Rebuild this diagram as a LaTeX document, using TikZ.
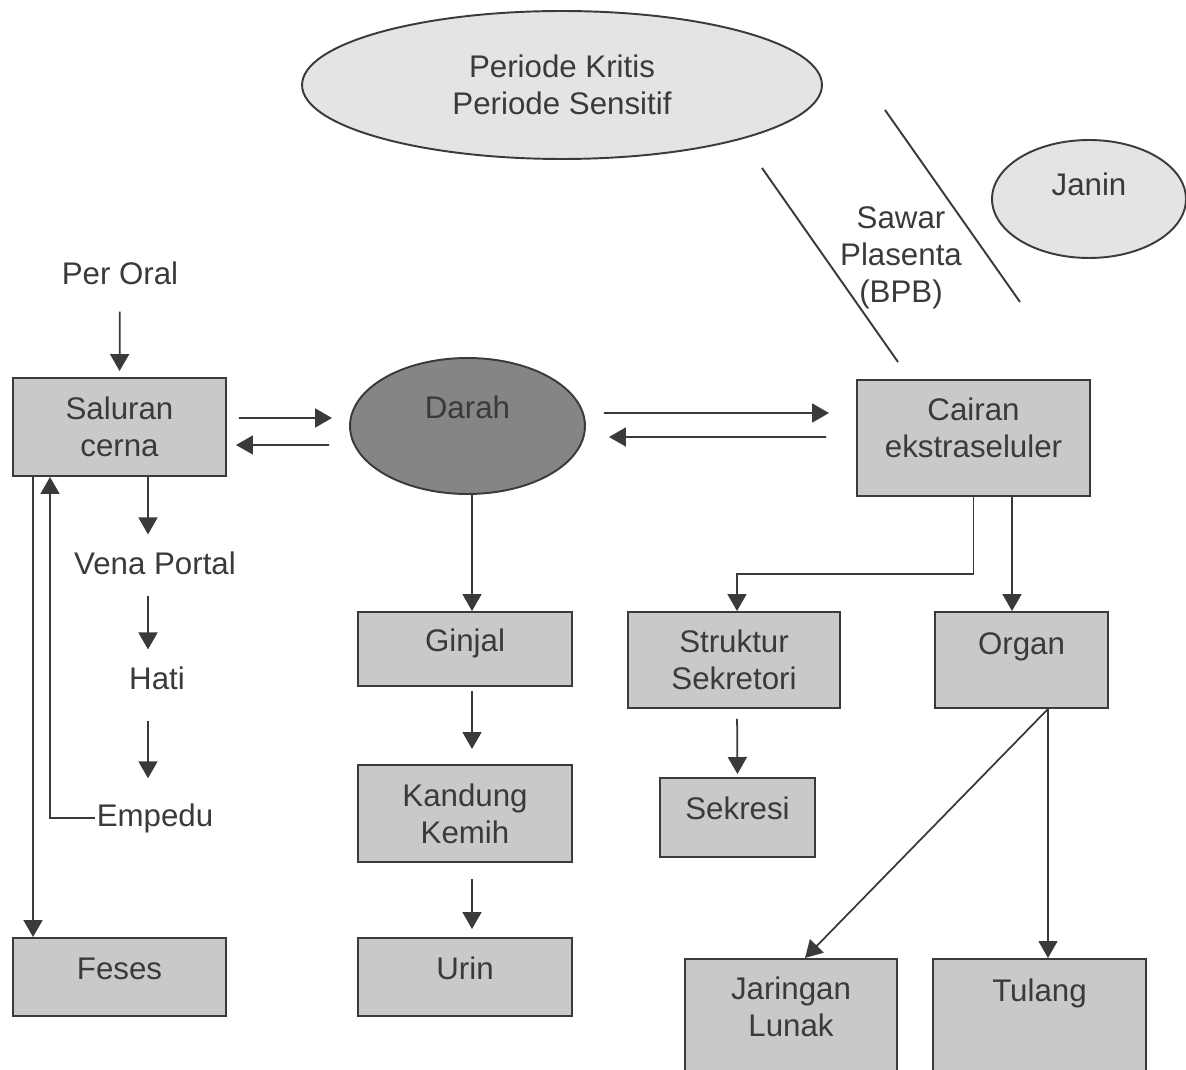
\documentclass[tikz,border=0pt]{standalone}
\usepackage{fontspec}
\setmainfont{Liberation Sans}
\usetikzlibrary{arrows.meta,positioning,calc,shapes.geometric}
\definecolor{InkGray}{HTML}{3A3A3A}
\definecolor{BoxGray}{HTML}{C9C9C9}
\definecolor{BloodGray}{HTML}{858585}
\definecolor{PaleGray}{HTML}{E4E4E4}
\tikzset{
  organbox/.style={draw=InkGray, fill=BoxGray, line width=1.1pt, align=center, inner sep=0pt, text=InkGray},
  lift/.style={text height=0.44cm, text depth=0.36cm},
  oval/.style={ellipse, draw=InkGray, fill=PaleGray, line width=1.1pt, align=center, inner sep=0pt, text=InkGray},
  plain/.style={text=InkGray, inner sep=1pt},
  arrow/.style={-{Triangle[length=0.34cm, width=0.38cm]}, line width=1pt, draw=InkGray},
  barrier/.style={line width=1.1pt, draw=InkGray}
}

\begin{document}
\begin{tikzpicture}[x=0.02cm, y=-0.02cm, every node/.style={font=\fontsize{17.8}{21.2}\selectfont}]
\useasboundingbox (0,0) rectangle (1186,1070);
\clip (0,0) rectangle (1186,1070);

% top: periods, placenta barrier, fetus
\node[oval, minimum width=10.4cm, minimum height=2.96cm] (periode) at (562,85) {Periode Kritis\\Periode Sensitif};
\node[oval, minimum width=3.88cm, minimum height=2.36cm, text height=0.44cm, text depth=0.56cm] (janin) at (1089,199) {Janin};
\node[plain, align=center] (sawar) at (901,258) {Sawar\\Plasenta\\(BPB)};
\draw[barrier] (762,168) -- (898,362);
\draw[barrier] (885,110) -- (1020,302);

% left column
\node[plain] (peroral) at (120,273) {Per Oral};
\node[organbox, minimum width=4.26cm, minimum height=1.96cm] (sal) at (119.5,427) {Saluran\\cerna};
\node[plain] (vena) at (155,563) {Vena Portal};
\node[plain] (hati) at (157,678) {Hati};
\node[plain] (empedu) at (155,818) {Empedu};
\node[organbox, lift, minimum width=4.26cm, minimum height=1.56cm] (feses) at (119.5,977) {Feses};

% blood and kidney column
\node[ellipse, draw=InkGray, fill=BloodGray, line width=1.1pt, inner sep=0pt, text=InkGray,
      minimum width=4.7cm, minimum height=2.72cm, text height=0.44cm, text depth=0.72cm] (darah) at (467.5,426) {Darah};
\node[organbox, lift, minimum width=4.28cm, minimum height=1.48cm] (ginjal) at (465,649) {Ginjal};
\node[organbox, minimum width=4.28cm, minimum height=1.94cm] (kandung) at (465,813.5) {Kandung\\Kemih};
\node[organbox, lift, minimum width=4.28cm, minimum height=1.56cm] (urin) at (465,977) {Urin};

% extracellular side
\node[organbox, minimum width=4.66cm, minimum height=2.32cm, text height=1.16cm, text depth=0.36cm] (cair) at (973.5,438) {Cairan\\ekstraseluler};
\node[organbox, minimum width=4.24cm, minimum height=1.92cm] (struktur) at (734,660) {Struktur\\Sekretori};
\node[organbox, lift, minimum width=3.1cm, minimum height=1.58cm] (sekresi) at (737.5,817.5) {Sekresi};
\node[organbox, minimum width=3.46cm, minimum height=1.92cm, text height=0.44cm, text depth=0.68cm] (organ) at (1021.5,660) {Organ};
\node[organbox, anchor=north, minimum width=4.24cm, minimum height=2.64cm, text height=1.16cm, text depth=0.68cm] (jaringan) at (791,958) {Jaringan\\Lunak};
\node[organbox, anchor=north, minimum width=4.26cm, minimum height=2.64cm, text height=0.44cm, text depth=1.36cm] (tulang) at (1039.5,958) {Tulang};

% connectors
\draw[arrow, shorten <=0.5cm, shorten >=0.12cm] (peroral.south) -- (sal.north);
\draw[arrow, shorten <=0.24cm, shorten >=0.34cm] ([yshift=0.18cm]sal.east) -- ([yshift=0.16cm]darah.west);
\draw[arrow, shorten <=0.4cm, shorten >=0.18cm] ([yshift=-0.38cm]darah.west) -- ([yshift=-0.36cm]sal.east);
\draw[arrow, shorten <=0.36cm, shorten >=0.54cm] ([yshift=0.26cm]darah.east) -- ([yshift=0.5cm]cair.west);
\draw[arrow, shorten <=0.6cm, shorten >=0.46cm] ([yshift=0.02cm]cair.west) -- ([yshift=-0.22cm]darah.east);

\draw[arrow, shorten >=0.3cm] ([xshift=0.57cm]sal.south) -- (148,0 |- vena.north);
\draw[arrow, shorten <=0.38cm, shorten >=0.3cm] (148,0 |- vena.south) -- (148,0 |- hati.north);
\draw[arrow, shorten <=0.58cm, shorten >=0.46cm] (148,0 |- hati.south) -- (148,0 |- empedu.north);
\draw[arrow] (empedu.west) -| ([xshift=-1.39cm]sal.south);
\draw[arrow] ([xshift=-1.73cm]sal.south) -- ([xshift=-1.73cm]feses.north);

\draw[arrow] ([xshift=0.09cm]darah.south) -- ([xshift=0.14cm]ginjal.north);
\draw[arrow, shorten <=0.08cm, shorten >=0.3cm] ([xshift=0.14cm]ginjal.south) -- ([xshift=0.14cm]kandung.north);
\draw[arrow, shorten <=0.32cm, shorten >=0.16cm] ([xshift=0.14cm]kandung.south) -- ([xshift=0.14cm]urin.north);

\draw[arrow] (cair.south) -- ++(0,77) -| ([xshift=0.06cm]struktur.north);
\draw[arrow] ([xshift=0.77cm]cair.south) -- ([xshift=-0.19cm]organ.north);
\draw[arrow, shorten <=0.2cm, shorten >=0.06cm] ([xshift=0.06cm]struktur.south) -- (sekresi.north);
\draw[arrow] ([xshift=0.53cm]organ.south) -- ([xshift=0.28cm]jaringan.north);
\draw[arrow] ([xshift=0.53cm]organ.south) -- ([xshift=0.17cm]tulang.north);
\end{tikzpicture}
\end{document}
